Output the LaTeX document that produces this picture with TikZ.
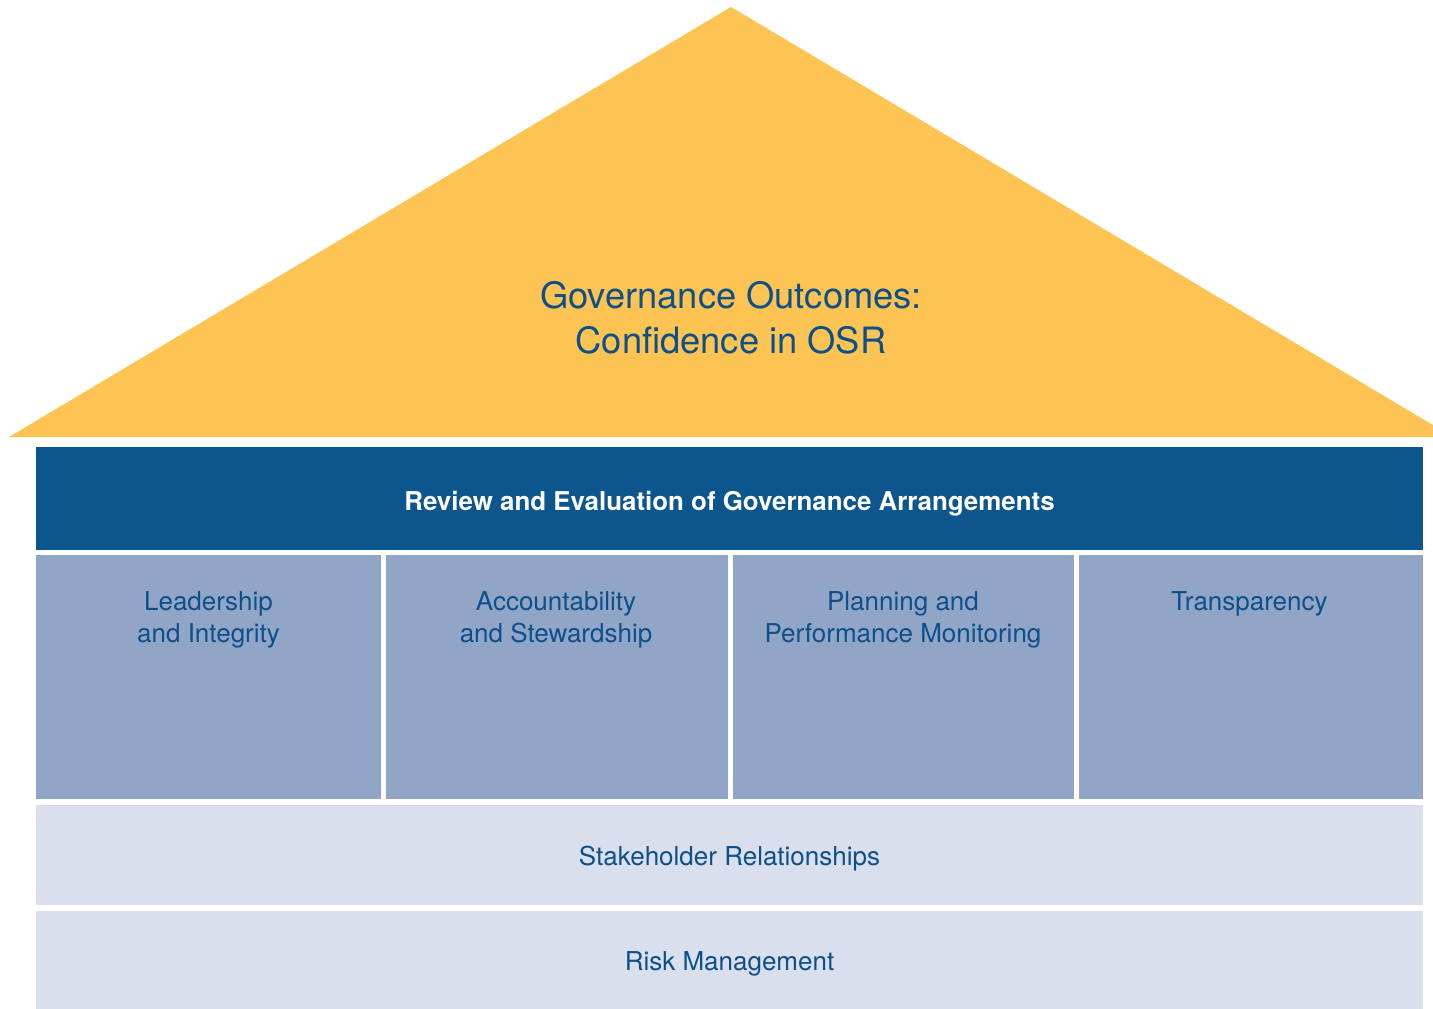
\documentclass[tikz,border=0pt]{standalone}
\usepackage{fontspec}
\setmainfont{TeX Gyre Heros}
\definecolor{roofc}{HTML}{FDC453}
\definecolor{bandc}{HTML}{0C568D}
\definecolor{pillarc}{HTML}{91A5C7}
\definecolor{basec}{HTML}{D9DFEC}
\definecolor{txtc}{HTML}{0D4F8B}
\begin{document}
\begin{tikzpicture}[x=1pt,y=-1pt,
  lbl/.style={inner sep=0pt, text=txtc, align=center, font=\fontsize{26}{32}\selectfont},
  titlelbl/.style={inner sep=0pt, text=white, font=\fontsize{25.9}{32}\selectfont\bfseries},
  rooflbl/.style={inner sep=0pt, text=txtc, align=center, font=\fontsize{36.3}{45}\selectfont}]
\useasboundingbox (0,0) rectangle (1433,1009);
\clip (0,0) rectangle (1433,1009);
% roof
\fill[roofc] (731,7) coordinate (apex) -- (1453,437) -- (9,437) -- cycle;
\node[rooflbl] (roof) at (731,318) {Governance Outcomes:\\Confidence in OSR};
% review band
\fill[bandc] (36,447) rectangle (1423,550);
\node[titlelbl, anchor=base] (review) at (729.5,510) {Review and Evaluation of Governance Arrangements};
% pillars
\fill[pillarc] (36,555) rectangle (380.5,799);
\fill[pillarc] (385.5,555) rectangle (727.5,799);
\fill[pillarc] (732.5,555) rectangle (1073.5,799);
\fill[pillarc] (1079,555) rectangle (1423,799);
\node[lbl, anchor=north] (p1) at (208.5,591) {Leadership\\and Integrity};
\node[lbl, anchor=north] (p2) at (556,591) {Accountability\\and Stewardship};
\node[lbl, anchor=north] (p3) at (903,591) {Planning and\\Performance Monitoring};
\node[lbl, anchor=north] (p4) at (1249.5,591) {Transparency};
% base bands
\fill[basec] (36,805) rectangle (1423,905);
\node[lbl, anchor=base] (stake) at (729.5,865) {Stakeholder Relationships};
\fill[basec] (36,910.5) rectangle (1423,1009);
\node[lbl, anchor=base] (risk) at (729.5,970) {Risk Management};
\end{tikzpicture}
\end{document}
